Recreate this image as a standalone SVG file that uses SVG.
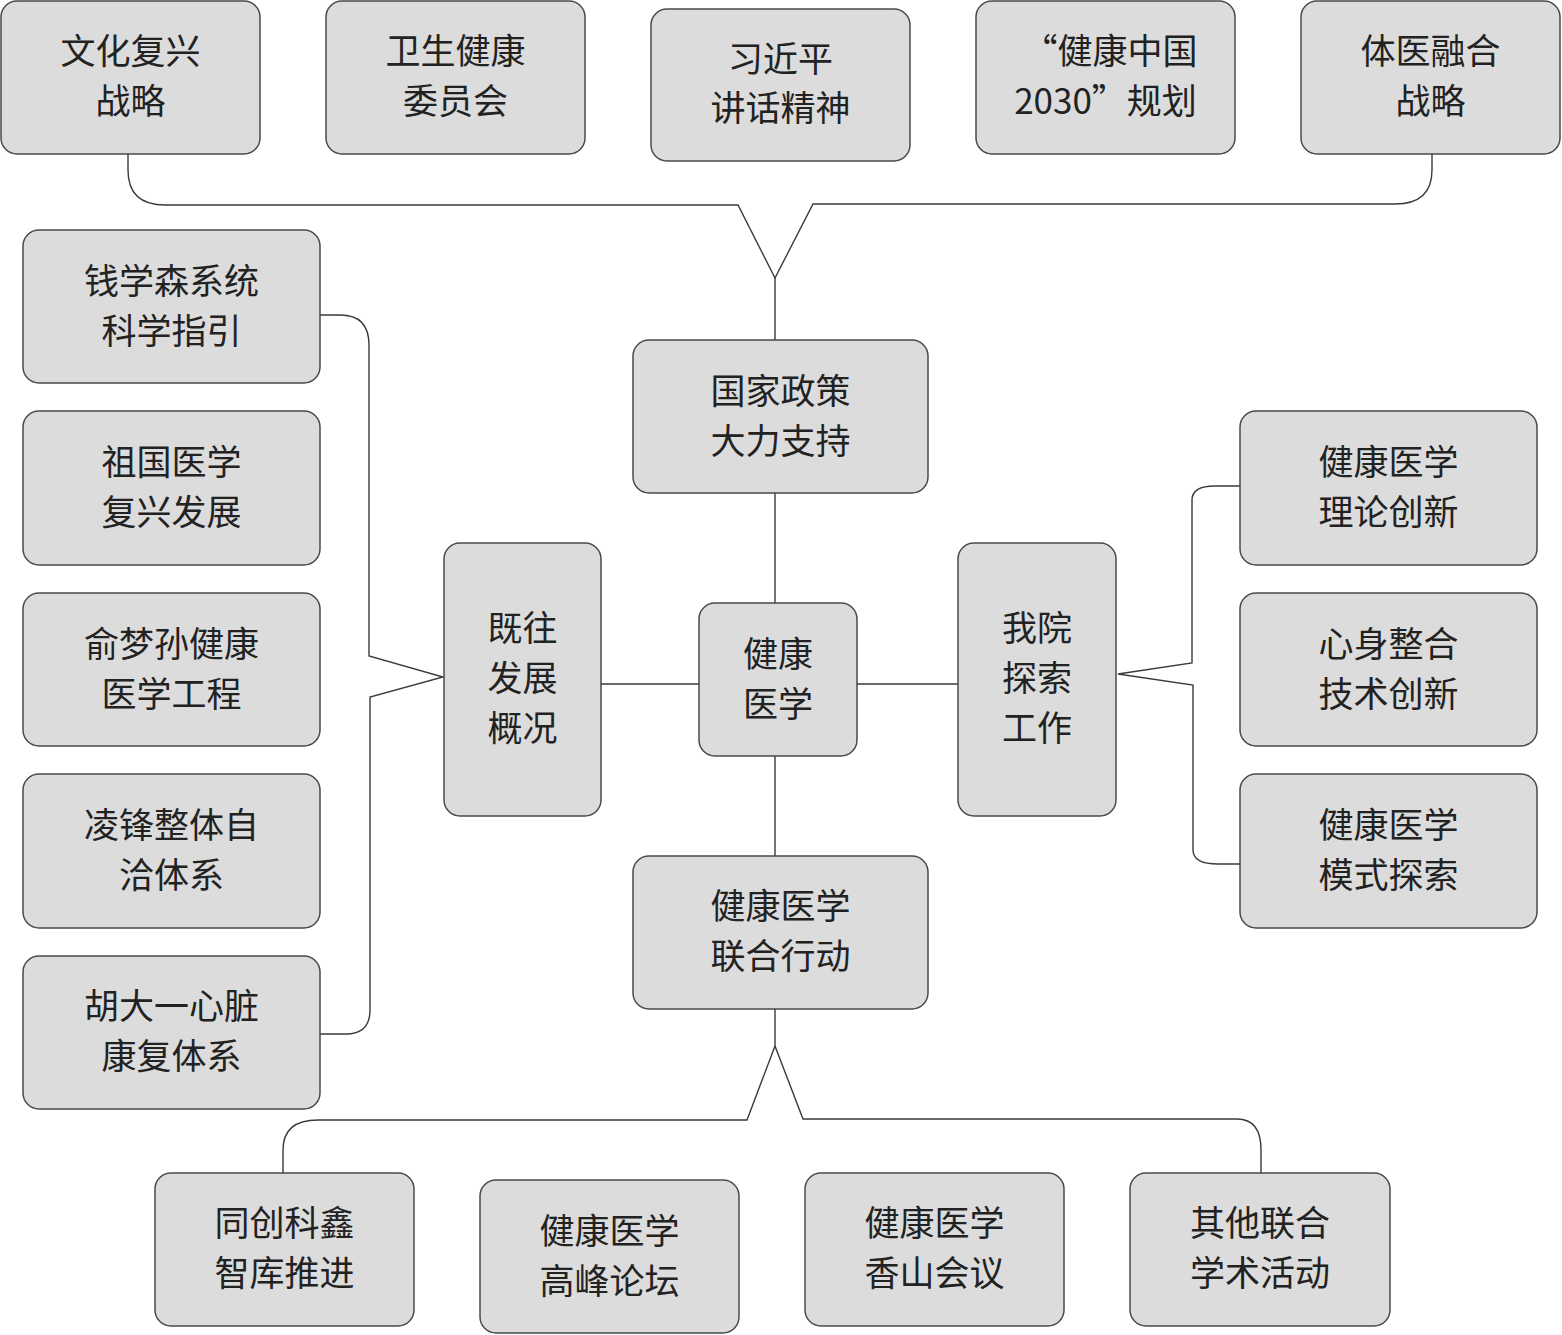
<svg xmlns="http://www.w3.org/2000/svg" width="1562" height="1335" viewBox="0 0 1562 1335">
<style>
.n rect{fill:#dcdcdc;stroke:#4a4a4a;stroke-width:1.5}
.n text{font-family:"Noto Sans CJK SC","Noto Sans",sans-serif;font-size:35px;fill:#222;text-anchor:middle;dominant-baseline:central}
.c path{fill:none;stroke:#3a3a3a;stroke-width:1.4}
</style>
<rect width="1562" height="1335" fill="#fff"/>
<g class="c" id="connectors">
<path d="M128 154 V170 Q128 205 165 205 H738 L775 278 L813 204 H1395 Q1432 204 1432 170 V154"/>
<path d="M775 278 V340"/>
<path d="M775 493 V603"/>
<path d="M775 756 V856"/>
<path d="M601 684 H699"/>
<path d="M857 684 H958"/>
<path d="M320 315 H340 Q369 315 369 345 V656 L443 677 L370 697 V1010 Q370 1034 346 1034 H320"/>
<path d="M1240 486 H1215 Q1192 486 1192 500 V663 L1118 674 L1193 685 V850 Q1193 864 1218 864 H1240"/>
<path d="M775 1009 V1046 L747 1120 H318 Q283 1120 283 1150 V1173"/>
<path d="M775 1046 L803 1119 H1237 Q1261 1119 1261 1150 V1173"/>
</g>
<g class="n" id="n1"><rect x="1" y="1" width="259" height="153" rx="16"/><text x="130.5" y="48">文化复兴</text><text x="130.5" y="98">战略</text></g>
<g class="n" id="n2"><rect x="326" y="1" width="259" height="153" rx="16"/><text x="455.5" y="48">卫生健康</text><text x="455.5" y="98">委员会</text></g>
<g class="n" id="n3"><rect x="651" y="9" width="259" height="152" rx="16"/><text x="780.5" y="56">习近平</text><text x="780.5" y="105">讲话精神</text></g>
<g class="n" id="n4"><rect x="976" y="1" width="259" height="153" rx="16"/><text x="1110" y="48">“健康中国</text><text x="1105.5" y="98">2030”规划</text></g>
<g class="n" id="n5"><rect x="1301" y="1" width="259" height="153" rx="16"/><text x="1430.5" y="48">体医融合</text><text x="1430.5" y="98">战略</text></g>
<g class="n" id="l1"><rect x="23" y="230" width="297" height="153" rx="16"/><text x="171.5" y="278">钱学森系统</text><text x="171.5" y="328">科学指引</text></g>
<g class="n" id="l2"><rect x="23" y="411" width="297" height="154" rx="16"/><text x="171.5" y="459">祖国医学</text><text x="171.5" y="509">复兴发展</text></g>
<g class="n" id="l3"><rect x="23" y="593" width="297" height="153" rx="16"/><text x="171.5" y="641">俞梦孙健康</text><text x="171.5" y="691">医学工程</text></g>
<g class="n" id="l4"><rect x="23" y="774" width="297" height="154" rx="16"/><text x="171.5" y="822">凌锋整体自</text><text x="171.5" y="872">洽体系</text></g>
<g class="n" id="l5"><rect x="23" y="956" width="297" height="153" rx="16"/><text x="171.5" y="1003">胡大一心脏</text><text x="171.5" y="1053">康复体系</text></g>
<g class="n" id="policy"><rect x="633" y="340" width="295" height="153" rx="16"/><text x="780.5" y="388">国家政策</text><text x="780.5" y="438">大力支持</text></g>
<g class="n" id="past"><rect x="444" y="543" width="157" height="273" rx="16"/><text x="522.5" y="625">既往</text><text x="522.5" y="675">发展</text><text x="522.5" y="725">概况</text></g>
<g class="n" id="center"><rect x="699" y="603" width="158" height="153" rx="16"/><text x="778" y="651">健康</text><text x="778" y="701">医学</text></g>
<g class="n" id="ours"><rect x="958" y="543" width="158" height="273" rx="16"/><text x="1037" y="625">我院</text><text x="1037" y="675">探索</text><text x="1037" y="725">工作</text></g>
<g class="n" id="joint"><rect x="633" y="856" width="295" height="153" rx="16"/><text x="780.5" y="903">健康医学</text><text x="780.5" y="953">联合行动</text></g>
<g class="n" id="r1"><rect x="1240" y="411" width="297" height="154" rx="16"/><text x="1388.5" y="459">健康医学</text><text x="1388.5" y="509">理论创新</text></g>
<g class="n" id="r2"><rect x="1240" y="593" width="297" height="153" rx="16"/><text x="1388.5" y="641">心身整合</text><text x="1388.5" y="691">技术创新</text></g>
<g class="n" id="r3"><rect x="1240" y="774" width="297" height="154" rx="16"/><text x="1388.5" y="822">健康医学</text><text x="1388.5" y="872">模式探索</text></g>
<g class="n" id="b1"><rect x="155" y="1173" width="259" height="153" rx="16"/><text x="284.5" y="1220">同创科鑫</text><text x="284.5" y="1270">智库推进</text></g>
<g class="n" id="b2"><rect x="480" y="1180" width="259" height="153" rx="16"/><text x="609.5" y="1228">健康医学</text><text x="609.5" y="1278">高峰论坛</text></g>
<g class="n" id="b3"><rect x="805" y="1173" width="259" height="153" rx="16"/><text x="934.5" y="1220">健康医学</text><text x="934.5" y="1270">香山会议</text></g>
<g class="n" id="b4"><rect x="1130" y="1173" width="260" height="153" rx="16"/><text x="1260" y="1220">其他联合</text><text x="1260" y="1270">学术活动</text></g>
</svg>
